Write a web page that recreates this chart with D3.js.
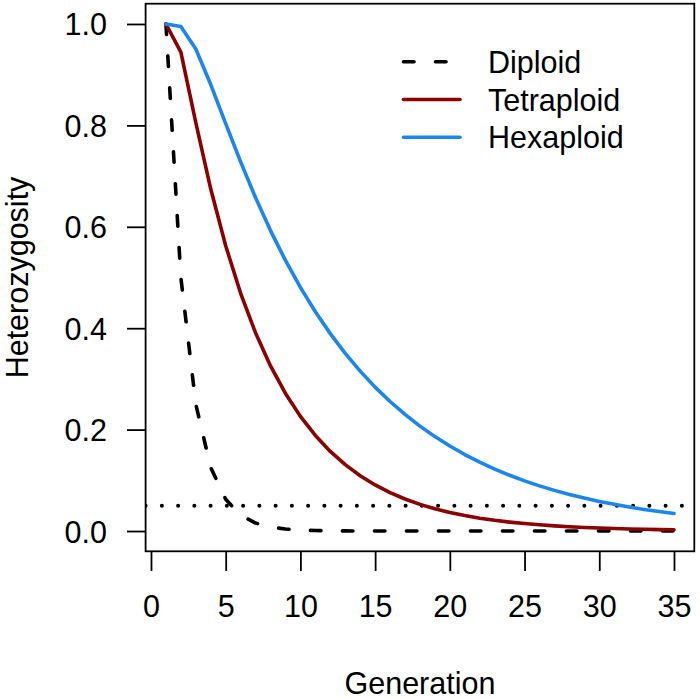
<!DOCTYPE html>
<html>
<head>
<meta charset="utf-8">
<script src="https://cdn.jsdelivr.net/npm/d3@7"></script>
<style>
  html, body { margin: 0; padding: 0; background: #fff; }
  svg { display: block; }
  text { font-family: "Liberation Sans", Arial, Helvetica, sans-serif; fill: #000; }
</style>
</head>
<body>
<svg id="chart" width="700" height="699"></svg>
<script>
// ---- data ----
const generations = [1,2,3,4,5,6,7,8,9,10,11,12,13,14,15,16,17,18,19,20,21,22,23,24,25,26,27,28,29,30,31,32,33,34,35];
const diploid = [1, 0.5, 0.25, 0.125, 0.0625, 0.03125, 0.015625, 0.0078125, 0.0039063, 0.0019531,
  0.0009766, 0.0004883, 0.0002441, 0.0001221, 0.0000610, 0.0000305, 0.0000153, 0.0000076, 0.0000038, 0.0000019,
  0.0000010, 0.0000005, 0.0000002, 0.0000001, 0.0000001, 0, 0, 0, 0, 0, 0, 0, 0, 0, 0];
const tetraploid = [1, 0.944444, 0.805556, 0.674383, 0.5625, 0.468836, 0.390711, 0.325595, 0.27133, 0.226108,
  0.188423, 0.157019, 0.13085, 0.109041, 0.090868, 0.075723, 0.063103, 0.052586, 0.043821, 0.036518,
  0.030431, 0.02536, 0.021133, 0.017611, 0.014676, 0.01223, 0.010192, 0.008493, 0.007078, 0.005898,
  0.004915, 0.004096, 0.003413, 0.002845, 0.00237];
const hexaploid = [1, 0.995, 0.95065, 0.880519, 0.803471, 0.727967, 0.657302, 0.59251, 0.533671, 0.480486,
  0.432517, 0.389301, 0.350386, 0.315355, 0.283822, 0.25544, 0.229896, 0.206906, 0.186216, 0.167594,
  0.150835, 0.135751, 0.122176, 0.109959, 0.098963, 0.089066, 0.08016, 0.072144, 0.064929, 0.058437,
  0.052593, 0.047334, 0.0426, 0.03834, 0.034506];
const threshold = 0.05;
const seriesNames = ["Diploid", "Tetraploid", "Hexaploid"];
const seriesColors = ["#000000", "#8B0000", "#1C86EE"];
const seriesDash = ["10.5,21.5", null, null];
const xTicks = [0, 5, 10, 15, 20, 25, 30, 35];
const yTicks = [0, 0.2, 0.4, 0.6, 0.8, 1.0];
const xLabel = "Generation";
const yLabel = "Heterozygosity";

// ---- layout ----
const L = 145.6, R = 694.3, T = 3.7, B = 551.3;
const FS = 30.5;
const svg = d3.select("#chart");

const x = d3.scaleLinear().domain([-0.36, 36.36]).range([L, R]);
const y = d3.scaleLinear().domain([-0.04, 1.04]).range([B, T]);

// clip
svg.append("defs").append("clipPath").attr("id", "plotclip")
  .append("rect").attr("x", L).attr("y", T).attr("width", R - L).attr("height", B - T);

// axes
const yAxis = d3.axisLeft(y).tickValues(yTicks).tickFormat(d3.format(".1f"))
  .tickSize(18.6).tickSizeOuter(0).tickPadding(20);
const gy = svg.append("g").attr("transform", `translate(${L},0)`).call(yAxis);
gy.select(".domain").remove();
gy.selectAll(".tick line").attr("stroke", "#000").attr("stroke-width", 1.8);
gy.selectAll(".tick text").attr("font-size", FS).attr("dy", "0.36em")
  .style("font-family", '"Liberation Sans", Arial, sans-serif');

const xAxis = d3.axisBottom(x).tickValues(xTicks).tickFormat(d3.format("d"))
  .tickSize(19.6).tickSizeOuter(0).tickPadding(24);
const gx = svg.append("g").attr("transform", `translate(0,${B})`).call(xAxis);
gx.select(".domain").remove();
gx.selectAll(".tick line").attr("stroke", "#000").attr("stroke-width", 1.8);
gx.selectAll(".tick text").attr("font-size", FS)
  .style("font-family", '"Liberation Sans", Arial, sans-serif');

// axis titles
svg.append("text").attr("x", (L + R) / 2).attr("y", 694).attr("text-anchor", "middle")
  .attr("font-size", FS).text(xLabel);
svg.append("text").attr("transform", `translate(28,${(T + B) / 2}) rotate(-90)`)
  .attr("text-anchor", "middle").attr("font-size", FS).text(yLabel);

// threshold dotted line
const plot = svg.append("g").attr("clip-path", "url(#plotclip)");
plot.append("line")
  .attr("x1", L).attr("x2", R).attr("y1", y(threshold)).attr("y2", y(threshold))
  .attr("stroke", "#000").attr("stroke-width", 4)
  .attr("stroke-linecap", "round").attr("stroke-dasharray", "0.01,16.24");

// series
const allSeries = [diploid, tetraploid, hexaploid];
const line = d3.line().x((d, i) => x(generations[i])).y(d => y(d));
allSeries.forEach((vals, k) => {
  const p = plot.append("path").datum(vals)
    .attr("d", line)
    .attr("fill", "none")
    .attr("stroke", seriesColors[k])
    .attr("stroke-width", 3.6)
    .attr("stroke-linejoin", "round")
    .attr("stroke-linecap", "round");
  if (seriesDash[k]) p.attr("stroke-dasharray", seriesDash[k]);
});

// box
svg.append("rect").attr("x", L).attr("y", T).attr("width", R - L).attr("height", B - T)
  .attr("fill", "none").attr("stroke", "#000").attr("stroke-width", 1.8);

// legend
const legY0 = 61.7, legDy = 37.8;
const leg = svg.append("g");
seriesNames.forEach((name, k) => {
  const yy = legY0 + k * legDy;
  const ln = leg.append("line").attr("x1", 403.5).attr("x2", 460).attr("y1", yy).attr("y2", yy)
    .attr("stroke", seriesColors[k]).attr("stroke-width", 3.6).attr("stroke-linecap", "round");
  if (seriesDash[k]) ln.attr("stroke-dasharray", seriesDash[k]);
  leg.append("text").attr("x", 488).attr("y", yy + 11).attr("font-size", FS).text(name);
});
</script>
</body>
</html>
